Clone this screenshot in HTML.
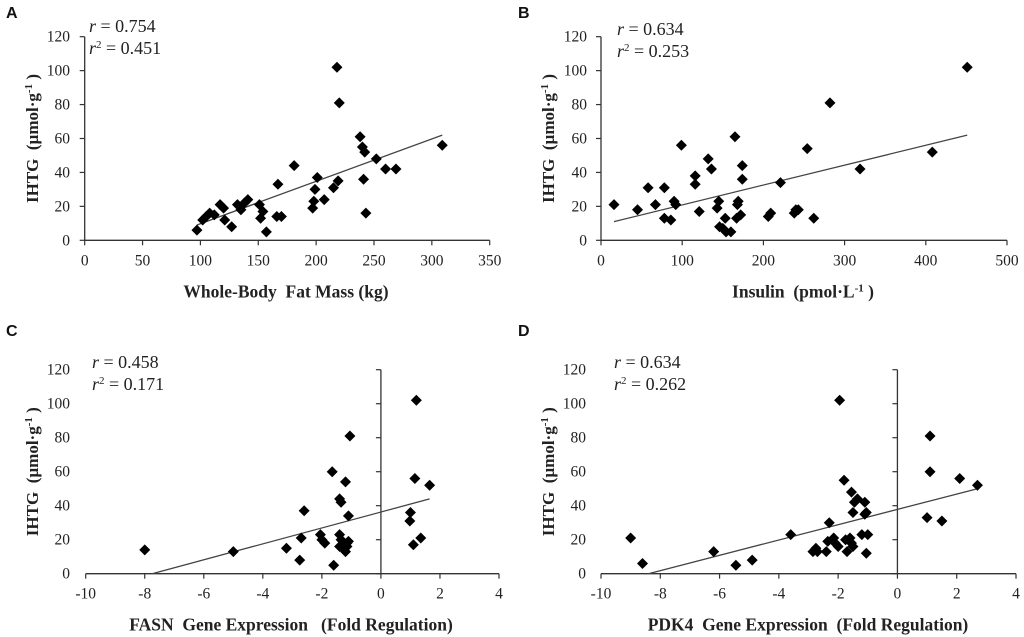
<!DOCTYPE html>
<html><head><meta charset="utf-8"><style>
body{margin:0;background:#fff;}
svg{display:block;}
.tk{font-family:"Liberation Serif",serif;font-size:15.5px;fill:#222;}
.tt{font-family:"Liberation Serif",serif;font-size:17.5px;font-weight:bold;fill:#222;}
.yt{font-family:"Liberation Serif",serif;font-size:17px;font-weight:bold;fill:#222;}
.pl{font-family:"Liberation Sans",sans-serif;font-size:16px;font-weight:bold;fill:#111;}
.st{font-family:"Liberation Serif",serif;font-size:18px;fill:#222;}
</style></head><body>
<svg id="fig" width="1024" height="637" xmlns="http://www.w3.org/2000/svg"></svg>
<script>
const aX=[97,102,105,108,112,117,120,121,127,132,135,138,141,151,152,154,157,166,167,170,181,197,198,199,201,207,215,219,218,220,238,240,242,241,243,252,260,269,309];
const aY=[6,12,14,16,15,21,19,12,8,21,18,22,24,21,13,17,5,14,33,14,44,19,23,30,37,24,31,35,102,81,61,55,52,36,16,48,42,42,56];
const aFit=[[97,9],[309,62]];
const bX=[16,45,58,67,78,78,86,90,92,99,116,116,121,132,136,143,145,146,150,153,154,160,165,167,168,169,172,174,174,221,206,209,238,240,243,254,262,282,319,408,451];
const bY=[21,18,31,21,13,31,12,23,21,56,38,33,17,48,42,19,23,8,7,13,5,5,61,13,21,23,15,44,36,34,14,16,16,18,18,54,13,81,42,52,102];
const bFit=[[16,11],[451,62]];
const cX=[-8,-5,-3.2,-2.7,-2.75,-2.6,-2.05,-2,-1.9,-1.6,-1.65,-1.4,-1.35,-1.4,-1.35,-1.4,-1.25,-1.2,-1.15,-1.1,-1.15,-1.2,-1.1,-1.05,1.0,0.98,1.1,1.2,1.15,1.35,1.65];
const cY=[14,13,15,21,8,37,23,20,18,5,60,44,42,23,20,16,15,13,18,19,16,54,34,81,36,31,17,102,56,21,52];
const cFit=[[-7.75,0],[1.65,44]];
const dX=[-9,-8.6,-6.2,-5.45,-4.9,-3.6,-2.85,-2.75,-2.7,-2.4,-2.35,-2.3,-2.15,-2.1,-2,-1.95,-1.8,-1.75,-1.7,-1.6,-1.55,-1.5,-1.55,-1.5,-1.45,-1.35,-1.2,-1.1,-1.1,-1.05,-1,-1.05,1,1.1,1.1,1.5,2.1,2.7];
const dY=[21,6,13,5,8,23,13,15,13,13,19,30,21,18,16,102,55,20,13,21,18,16,48,36,42,44,23,42,35,36,23,12,33,81,60,31,56,52];
const dFit=[[-8.4,0],[2.7,50]];
const yTicks=[0,20,40,60,80,100,120];
const aTicks=[0,50,100,150,200,250,300,350];
const bTicks=[0,100,200,300,400,500];
const gTicks=[-10,-8,-6,-4,-2,0,2,4];

const NS="http://www.w3.org/2000/svg";
const svg=document.getElementById('fig');
function mk(tag,attrs,parent,text){const e=document.createElementNS(NS,tag);for(const k in attrs)e.setAttribute(k,attrs[k]);if(text!==undefined)e.textContent=text;(parent||svg).appendChild(e);return e;}

function panel(o){
  const g=mk('g',{});
  
  
  const sx=v=>o.x0+(v-o.xmin)/(o.xmax-o.xmin)*(o.x1-o.x0);
  const sy=v=>o.y0-(v-0)/120*(o.y0-o.y1);
  const lbl=mk('text',{x:o.lx,y:o.ly,class:'pl'},g,o.id.toUpperCase());
  
  const xa=mk('line',{x1:sx(o.xmin),x2:sx(o.xmax),y1:o.y0,y2:o.y0,stroke:'#333','stroke-width':1.3},g);
  
  const yax=sx(o.yaxAt);
  const ya=mk('line',{x1:yax,x2:yax,y1:o.y0,y2:o.y1,stroke:'#333','stroke-width':1.3},g);
  
  o.xt.forEach(v=>{
    mk('line',{x1:sx(v),x2:sx(v),y1:o.y0,y2:o.y0+5,stroke:'#333','stroke-width':1.2},g);
    const t=mk('text',{x:sx(v),y:o.y0+25,class:'tk','text-anchor':'middle'},g,String(v));
    
  });
  yTicks.forEach(v=>{
    mk('line',{x1:yax-5,x2:yax,y1:sy(v),y2:sy(v),stroke:'#333','stroke-width':1.2},g);
    const t=mk('text',{x:o.ylx,y:sy(v)+5,class:'tk','text-anchor':'end'},g,String(v));
    
  });
  const fit=mk('line',{x1:sx(o.fit[0][0]),y1:sy(o.fit[0][1]),x2:sx(o.fit[1][0]),y2:sy(o.fit[1][1]),stroke:'#444','stroke-width':1.3},g);
  
  o.xs.forEach((v,i)=>{
    const cx=sx(v),cy=sy(o.ys[i]),r=5.5;
    const p=mk('path',{d:`M${cx},${cy-r}L${cx+r},${cy}L${cx},${cy+r}L${cx-r},${cy}Z`,fill:'#000'},g);
    
  });
  const s1=mk('text',{x:o.sx,y:o.sy,class:'st'},g);
  
  mk('tspan',{'font-style':'italic'},s1,'r');mk('tspan',{},s1,o.r);
  const s2=mk('text',{x:o.sx,y:o.sy+22,class:'st'},g);
  
  mk('tspan',{'font-style':'italic'},s2,'r');mk('tspan',{'font-size':'11','dy':'-6'},s2,'2');mk('tspan',{dy:'6'},s2,o.r2);
  const xt=mk('text',{x:o.xtx,y:o.y0+57,class:'tt','text-anchor':'middle'},g);
  
  xt.innerHTML=o.xtitle;
  const yt=mk('text',{x:0,y:0,class:'yt','text-anchor':'middle',transform:`translate(${o.ytx},${(o.y0+o.y1)/2}) rotate(-90)`},g);
  
  yt.innerHTML='IHTG&#160;&#160;(µmol·g<tspan font-size="11" dy="-6">-1</tspan><tspan dy="6">&#160;)</tspan>';
}
panel({id:'a',lx:6,ly:18,x0:84.7,x1:489.7,xmin:0,xmax:350,y0:240.3,y1:36.7,yaxAt:0,xt:aTicks,ylx:70,xs:aX,ys:aY,fit:aFit,sx:89,sy:32,r:' = 0.754',r2:' = 0.451',xtitle:'Whole-Body&#160;&#160;Fat Mass (kg)',xtx:286,ytx:38});
panel({id:'b',lx:518,ly:18,x0:601,x1:1007,xmin:0,xmax:500,y0:240.3,y1:36.7,yaxAt:0,xt:bTicks,ylx:587,xs:bX,ys:bY,fit:bFit,sx:617,sy:35,r:' = 0.634',r2:' = 0.253',xtitle:'Insulin&#160;&#160;(pmol·L<tspan font-size="11" dy="-6">-1</tspan><tspan dy="6"> )</tspan>',xtx:803,ytx:554});
panel({id:'c',lx:6,ly:336,x0:85.7,x1:499,xmin:-10,xmax:4,y0:573.7,y1:369.7,yaxAt:0,xt:gTicks,ylx:70,xs:cX,ys:cY,fit:cFit,sx:92,sy:368,r:' = 0.458',r2:' = 0.171',xtitle:'FASN&#160;&#160;Gene Expression&#160;&#160;&#160;(Fold Regulation)',xtx:291,ytx:38});
panel({id:'d',lx:518,ly:336,x0:601,x1:1016,xmin:-10,xmax:4,y0:573.7,y1:369.7,yaxAt:0,xt:gTicks,ylx:586,xs:dX,ys:dY,fit:dFit,sx:614,sy:368,r:' =  0.634',r2:' = 0.262',xtitle:'PDK4&#160;&#160;Gene Expression&#160;&#160;(Fold Regulation)',xtx:808,ytx:554});
</script>
</body></html>
